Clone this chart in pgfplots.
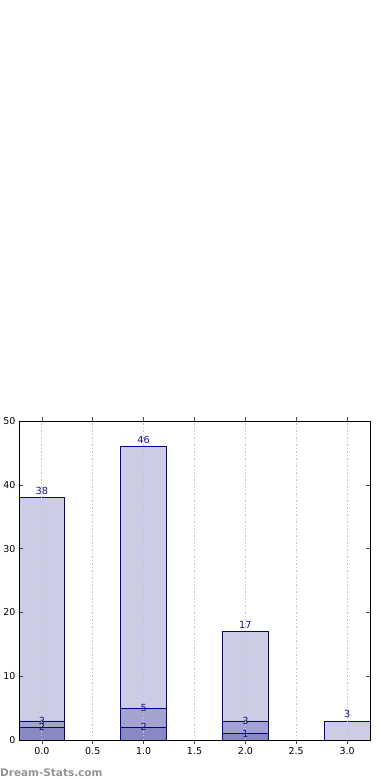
\documentclass[border=0pt]{standalone}
\usepackage{pgfplots}
\pgfplotsset{compat=1.18}
\usepackage{fontspec}
\setmainfont{DejaVu Sans}
\definecolor{barlight}{RGB}{204,204,229}
\definecolor{barmid}{RGB}{163,163,207}
\definecolor{bardark}{RGB}{136,136,196}
\definecolor{edge}{RGB}{0,0,150}
\definecolor{lbl}{RGB}{20,20,140}
\begin{document}
\begin{tikzpicture}
\useasboundingbox (0,0) rectangle (390bp,780bp);
\begin{axis}[
  at={(19bp,40bp)}, anchor=south west,
  width=351bp, height=319bp, scale only axis,
  xmin=-0.225, xmax=3.225, ymin=0, ymax=50,
  xtick={0,0.5,1,1.5,2,2.5,3},
  xticklabels={0.0,0.5,1.0,1.5,2.0,2.5,3.0},
  ytick={0,10,20,30,40,50},
  tick align=inside, tick pos=both,
  major tick length=4bp,
  xmajorgrids, grid style={gray!45, dash pattern=on 1.5bp off 2bp, line width=1bp},
  axis on top,
  axis line style={black, line width=0.8pt},
  tick style={black!70, line width=0.6pt},
  ticklabel style={font=\fontsize{9.5}{11}\selectfont},
  /pgf/number format/assume math mode=true,
  ybar, bar shift=0pt, bar width=0.45,
  every axis plot/.append style={draw=edge, line width=0.7pt},
  nodes near coords,
  every node near coord/.append style={font=\fontsize{9.8}{11}\selectfont, text=lbl},
]
\addplot[fill=barlight, nodes near coords align=vertical,
  every node near coord/.append style={yshift=-0.5bp}] coordinates {(0,38) (1,46) (2,17) (3,3)};
\addplot[fill=barmid, nodes near coords align={center}] coordinates {(0,3) (1,5) (2,3)};
\addplot[fill=bardark, nodes near coords align={center}] coordinates {(0,2) (1,2) (2,1)};
\end{axis}
\node[anchor=south west, inner sep=0pt, text=gray!85, font=\fontsize{10.5}{12}\selectfont\bfseries] at (0bp,3bp) {Dream-Stats.com};
\end{tikzpicture}
\end{document}
